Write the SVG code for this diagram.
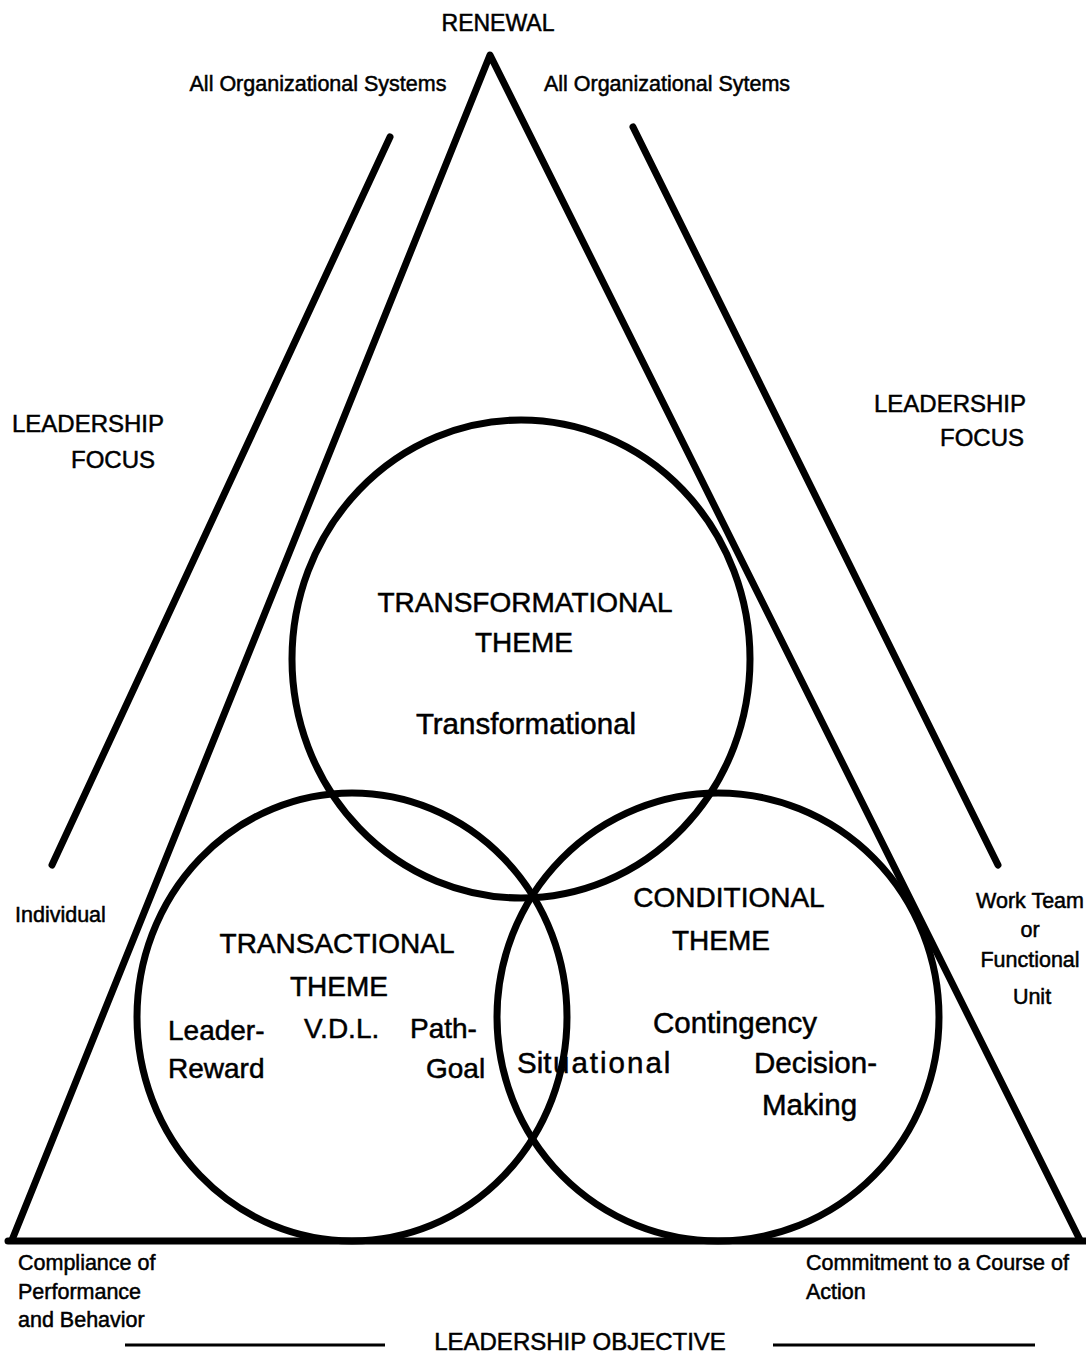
<svg xmlns="http://www.w3.org/2000/svg" width="1086" height="1357" viewBox="0 0 1086 1357">
  <style>
    .ln { stroke: #000; fill: none; stroke-width: 7; stroke-linecap: round; stroke-linejoin: round; }
    .thin { stroke: #000; stroke-width: 3; }
    text { font-family: "Liberation Sans", Arial, sans-serif; fill: #000; stroke: #000; stroke-width: 0.5; }
    .sm { font-size: 21.5px; }
    .md { font-size: 24px; }
    .lg { font-size: 28px; }
    .lw { font-size: 29.5px; }
    .mid { text-anchor: middle; }
  </style>
  <rect width="1086" height="1357" fill="#fff"/>

  <!-- triangle frame and focus bars -->
  <g id="frame">
    <polyline class="ln" points="12,1240 490,55 1080,1240"/>
    <line class="ln" x1="8" y1="1241" x2="1086" y2="1241"/>
    <line class="ln" x1="390" y1="137" x2="52" y2="865"/>
    <line class="ln" x1="633" y1="127" x2="998" y2="865"/>
  </g>

  <!-- labels around the frame -->
  <g id="labels">
    <text class="md mid" x="498" y="31" style="font-size:23px">RENEWAL</text>
    <text class="sm mid" x="318" y="91">All Organizational Systems</text>
    <text class="sm mid" x="667" y="91">All Organizational Sytems</text>
    <text class="md mid" x="88" y="432">LEADERSHIP</text>
    <text class="md mid" x="113" y="468">FOCUS</text>
    <text class="md mid" x="950" y="412">LEADERSHIP</text>
    <text class="md mid" x="982" y="446">FOCUS</text>
    <text class="sm" x="15" y="922">Individual</text>
    <text class="sm mid" x="1030" y="908">Work Team</text>
    <text class="sm mid" x="1030" y="937">or</text>
    <text class="sm mid" x="1030" y="967">Functional</text>
    <text class="sm mid" x="1032" y="1004">Unit</text>
    <text class="sm" x="18" y="1270">Compliance of</text>
    <text class="sm" x="18" y="1299">Performance</text>
    <text class="sm" x="18" y="1327">and Behavior</text>
    <text class="sm" x="806" y="1270">Commitment to a Course of</text>
    <text class="sm" x="806" y="1299">Action</text>
    <text class="md mid" x="580" y="1350">LEADERSHIP OBJECTIVE</text>
    <line class="thin" x1="125" y1="1345" x2="385" y2="1345"/>
    <line class="thin" x1="773" y1="1345" x2="1035" y2="1345"/>
  </g>

  <!-- transformational theme -->
  <g id="transformational">
    <text class="lg mid" x="525" y="612">TRANSFORMATIONAL</text>
    <text class="lg mid" x="524" y="652">THEME</text>
    <text class="lw mid" x="526" y="734">Transformational</text>
  </g>

  <!-- transactional theme -->
  <g id="transactional">
    <text class="lg mid" x="337" y="953">TRANSACTIONAL</text>
    <text class="lg mid" x="339" y="996">THEME</text>
    <text class="lg" x="168" y="1040">Leader-</text>
    <text class="lg" x="168" y="1078">Reward</text>
    <text class="lg" x="304" y="1038">V.D.L.</text>
    <text class="lg" x="410" y="1038">Path-</text>
    <text class="lg" x="426" y="1078">Goal</text>
  </g>

  <!-- conditional theme -->
  <g id="conditional">
    <text class="lg mid" x="729" y="907">CONDITIONAL</text>
    <text class="lg mid" x="721" y="950">THEME</text>
    <text class="lw mid" x="735" y="1033">Contingency</text>
    <text class="lw" x="517" y="1073">Sit<tspan x="553" letter-spacing="2">uational</tspan></text>
    <text class="lw" x="754" y="1073">Decision-</text>
    <text class="lw" x="762" y="1115">Making</text>
  </g>

  <!-- overlapping theme circles -->
  <g id="circles">
    <ellipse class="ln" cx="521" cy="659" rx="229" ry="239"/>
    <ellipse class="ln" cx="352" cy="1017" rx="215" ry="224"/>
    <ellipse class="ln" cx="718" cy="1017" rx="221" ry="224"/>
  </g>
</svg>
